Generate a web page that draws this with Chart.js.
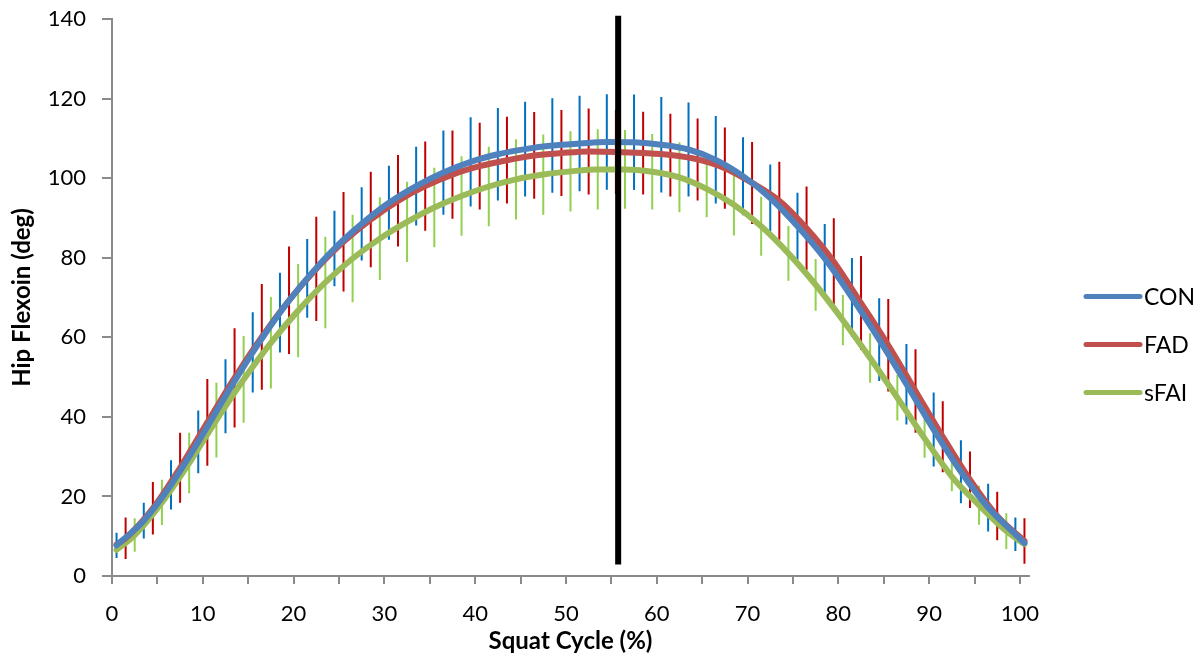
<!DOCTYPE html>
<html>
<head>
<meta charset="utf-8">
<script src="https://cdn.jsdelivr.net/npm/chart.js@4/dist/chart.umd.min.js"></script>
<style>
  html, body { margin: 0; padding: 0; background: #fff; }
  #wrap { width: 1199px; height: 666px; }
</style>
</head>
<body>
<div id="wrap"><canvas id="hipChart" width="1199" height="666"></canvas></div>
<script>
// squat cycle positions (%) where each group has an error bar
const conX = [0.5,3.5,6.5,9.5,12.5,15.5,18.5,21.5,24.5,27.5,30.5,33.5,36.5,39.5,42.5,45.5,48.5,51.5,54.5,57.5,60.5,63.5,66.5,69.5,72.5,75.5,78.5,81.5,84.5,87.5,90.5,93.5,96.5,99.5];
const conMean = [7.7,13.9,22.9,33.7,45.2,56.2,66.2,74.8,82.3,88.5,93.8,98.0,101.4,104.1,106.0,107.3,108.2,108.7,109.1,109.0,108.4,107.2,104.6,100.5,95.0,87.9,79.8,70.0,59.4,48.2,36.8,26.2,17.2,10.5];
const conSD = [3.2,4.5,6.2,7.9,9.3,10.1,10.0,9.9,9.5,9.2,9.3,9.9,10.6,11.2,11.6,11.9,11.9,12.0,12.0,12.0,12.0,11.8,11.0,9.8,8.4,8.4,8.7,9.9,10.4,10.1,9.3,7.9,6.0,4.2];

const fadX = [1.5,4.5,7.5,10.5,13.5,16.5,19.5,22.5,25.5,28.5,31.5,34.5,37.5,40.5,43.5,46.5,49.5,52.5,55.5,58.5,61.5,64.5,67.5,70.5,73.5,76.5,79.5,82.5,85.5,88.5,91.5,94.5,97.5,100.5];
const fadMean = [9.5,17.0,27.2,38.6,49.8,60.1,69.3,77.2,84.0,89.6,94.3,98.0,100.9,103.0,104.5,105.7,106.3,106.7,106.6,106.3,105.8,104.7,102.5,98.8,94.3,87.4,79.0,68.6,58.0,46.5,35.0,24.2,15.1,8.8];
const fadSD = [5.2,6.6,8.8,10.9,12.5,13.3,13.5,13.1,12.5,12.0,11.5,11.2,11.1,10.9,10.9,10.9,10.8,10.8,10.6,10.4,10.4,10.3,10.2,10.3,9.8,10.5,10.9,11.8,11.6,10.5,8.9,7.1,6.1,5.7];

const sfaiX = [2.5,5.5,8.5,11.5,14.5,17.5,20.5,23.5,26.5,29.5,32.5,35.5,38.5,41.5,44.5,47.5,50.5,53.5,56.5,59.5,62.5,65.5,68.5,71.5,74.5,77.5,80.5,83.5,86.5,89.5,92.5,95.5,98.5];
const sfaiMean = [10.3,18.5,28.4,39.2,49.4,58.6,66.7,73.8,79.8,84.8,89.0,92.6,95.5,97.9,99.7,100.9,101.7,102.2,102.2,101.6,100.2,97.3,93.3,87.9,81.1,73.2,64.3,54.8,44.8,34.6,25.0,17.8,11.3];
const sfaiSD = [4.2,5.7,7.6,9.4,10.9,11.5,11.7,11.5,11.0,10.4,10.1,10.0,10.0,10.0,10.1,10.1,10.1,10.1,9.9,9.5,8.8,7.1,7.7,7.4,6.9,6.5,6.3,6.2,5.7,4.9,3.7,4.9,4.5];

// mean curves also run to the ends of the cycle where no bar is drawn
const cycleStart = 0.5, cycleEnd = 100.5;
const conEnd = 8.3;
const fadStart = 7.9;
const sfaiStart = 6.6, sfaiEnd = 8.0;

// vertical marker line
const markerX = 55.75;
const markerY = [2.9, 140.8];

const xTicks = [0,5,10,15,20,25,30,35,40,45,50,55,60,65,70,75,80,85,90,95,100];
const groups = ["CON", "FAD", "sFAI"];

const FONT = "Lato, 'Open Sans', sans-serif";
Chart.defaults.font.family = FONT;
Chart.defaults.color = "#000";

function meanLine(xs, ys) {
    return xs.map((x, i) => ({ x: x, y: ys[i] }));
}

// each bar: low point, high point, then a gap
function errorBars(xs, mean, sd) {
    const out = [];
    xs.forEach((x, i) => {
        out.push({ x: x, y: mean[i] - sd[i] });
        out.push({ x: x, y: mean[i] + sd[i] });
        out.push({ x: x, y: null });
    });
    return out;
}

const conLine = meanLine(conX, conMean).concat([{ x: cycleEnd, y: conEnd }]);
const fadLine = [{ x: cycleStart, y: fadStart }].concat(meanLine(fadX, fadMean));
const sfaiLine = [{ x: cycleStart, y: sfaiStart }].concat(meanLine(sfaiX, sfaiMean), [{ x: cycleEnd, y: sfaiEnd }]);

const lineColors = ["#4F81BD", "#C0504D", "#9BBB59"];
const barColors = ["#0070C0", "#C00000", "#92D050"];

function barSet(label, data, color) {
    return {
        label: label, data: data, borderColor: color, borderWidth: 2,
        pointRadius: 0, tension: 0, spanGaps: false, order: 3, borderCapStyle: "butt"
    };
}
function curveSet(label, data, color) {
    return {
        label: label, data: data, borderColor: color, borderWidth: 6,
        pointRadius: 0, cubicInterpolationMode: "monotone", order: 2,
        borderCapStyle: "round", borderJoinStyle: "round"
    };
}

// legend drawn at the right, like the original
const sideLegend = {
    id: "sideLegend",
    afterDraw(chart) {
        const c = chart.ctx, a = chart.chartArea;
        const x0 = a.right + 57, mid = (a.top + a.bottom) / 2 + 47;
        c.save();
        c.font = "23px " + FONT;
        c.textBaseline = "middle";
        c.textAlign = "left";
        groups.forEach((g, i) => {
            const y = mid + (i - 1) * 48;
            c.strokeStyle = lineColors[i];
            c.lineWidth = 5;
            c.lineCap = "round";
            c.beginPath();
            c.moveTo(x0, y);
            c.lineTo(x0 + 54, y);
            c.stroke();
            c.fillStyle = "#000";
            c.fillText(g, x0 + 58, y + 1);
        });
        c.restore();
    }
};

new Chart(document.getElementById("hipChart"), {
    type: "line",
    data: {
        datasets: [
            barSet("CON SD", errorBars(conX, conMean, conSD), barColors[0]),
            barSet("FAD SD", errorBars(fadX, fadMean, fadSD), barColors[1]),
            barSet("sFAI SD", errorBars(sfaiX, sfaiMean, sfaiSD), barColors[2]),
            curveSet(groups[0], conLine, lineColors[0]),
            curveSet(groups[1], fadLine, lineColors[1]),
            curveSet(groups[2], sfaiLine, lineColors[2]),
            {
                label: "marker",
                data: markerY.map(y => ({ x: markerX, y: y })),
                borderColor: "#000", borderWidth: 6, pointRadius: 0,
                order: 1, clip: false, borderCapStyle: "butt"
            }
        ]
    },
    options: {
        responsive: false,
        animation: false,
        layout: { padding: { left: 0, right: 170, top: 19, bottom: 0 } },
        plugins: {
            legend: { display: false },
            tooltip: { enabled: false }
        },
        scales: {
            x: {
                type: "linear",
                min: 0,
                max: 101,
                afterBuildTicks: s => { s.ticks = xTicks.map(v => ({ value: v })); },
                afterFit: s => { s.height = 90; s.paddingLeft = 0; s.paddingRight = 0; },
                ticks: {
                    autoSkip: false, maxRotation: 0, padding: 17,
                    font: { size: 22 },
                    callback: v => (v % 10 === 0 ? v : "")
                },
                grid: { drawOnChartArea: false, drawTicks: true, tickLength: 8, color: "#8a8a8a", lineWidth: 2 },
                border: { color: "#8a8a8a", width: 2 },
                title: {
                    display: true, text: "Squat Cycle (%)",
                    font: { size: 24, weight: "bold" },
                    padding: { top: 0, bottom: 10 }
                }
            },
            y: {
                min: 0,
                max: 140,
                afterFit: s => { s.width = 112; s.paddingTop = 0; s.paddingBottom = 0; },
                ticks: { stepSize: 20, padding: 16, font: { size: 22 } },
                grid: { drawOnChartArea: false, drawTicks: true, tickLength: 10, color: "#8a8a8a", lineWidth: 2 },
                border: { color: "#8a8a8a", width: 2 },
                title: {
                    display: true, text: "Hip Flexoin (deg)",
                    font: { size: 24, weight: "bold" },
                    padding: { top: 8, bottom: 0 }
                }
            }
        }
    },
    plugins: [sideLegend]
});
</script>
</body>
</html>
